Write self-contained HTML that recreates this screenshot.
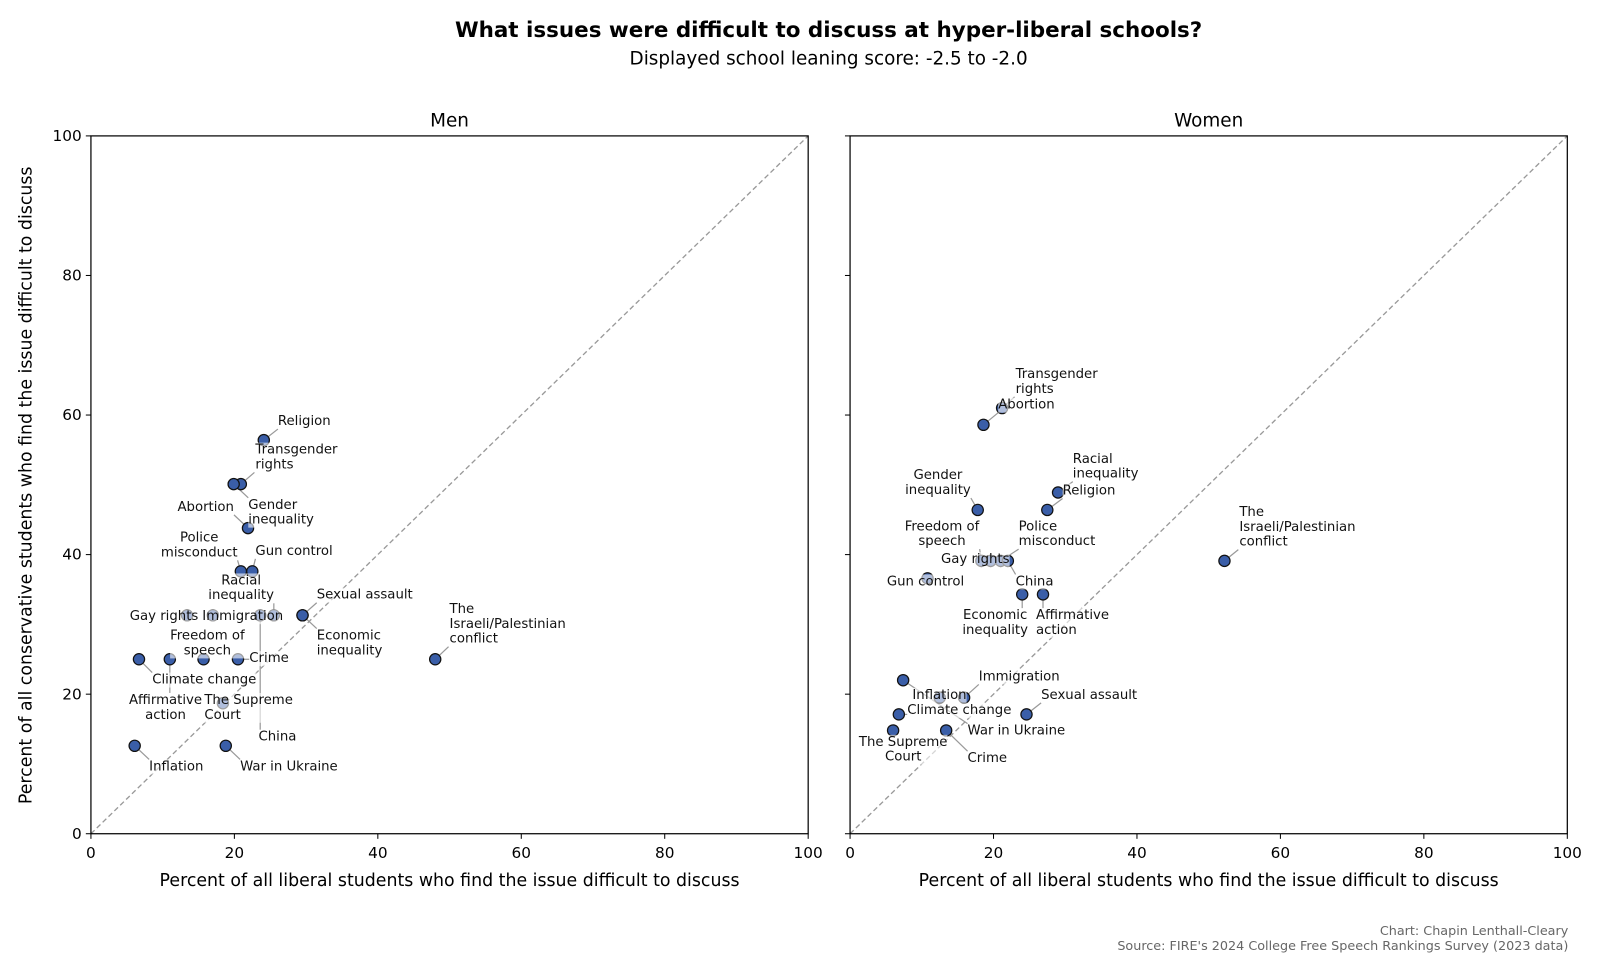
<!DOCTYPE html>
<html><head><meta charset="utf-8">
<style>
body{margin:0;background:#fff;}
svg{display:block;font-family:"DejaVu Sans","Liberation Sans",sans-serif;}
</style></head>
<body>
<svg id="chart" width="1600" height="968" viewBox="0 0 1566 947.4">
  <rect x="0" y="0" width="1566" height="948" fill="#fff"/>
  <text x="811" y="36" text-anchor="middle" font-size="21" font-weight="bold" fill="#000">What issues were difficult to discuss at hyper-liberal schools?</text>
  <text x="811" y="63" text-anchor="middle" font-size="18" fill="#000">Displayed school leaning score: -2.5 to -2.0</text>
  <text x="1535" y="915" text-anchor="end" font-size="12.5" fill="#666">Chart: Chapin Lenthall-Cleary</text>
  <text x="1535" y="930" text-anchor="end" font-size="12.5" fill="#666">Source: FIRE's 2024 College Free Speech Rankings Survey (2023 data)</text>
  <text transform="translate(31,475) rotate(-90)" text-anchor="middle" font-size="17" fill="#000">Percent of all conservative students who find the issue difficult to discuss</text>
  <g id="panels"></g>
</svg>
<script>
const ticks = [0, 20, 40, 60, 80, 100];
const panelNames = ["Men", "Women"];
const issues = ["Religion","Transgender rights","Gender inequality","Abortion","Police misconduct","Gun control","Racial inequality","Immigration","Gay rights","Freedom of speech","Sexual assault","Economic inequality","The Israeli/Palestinian conflict","Crime","Climate change","Affirmative action","The Supreme Court","China","Inflation","War in Ukraine"];
const menLiberal = [24.1,20.9,19.9,21.9,20.9,22.5,25.5,17.0,13.4,15.7,29.5,29.5,48.0,20.5,6.7,11.0,18.4,23.6,6.1,18.8];
const menConservative = [56.4,50.1,50.1,43.8,37.6,37.6,31.3,31.3,31.3,25.0,31.3,31.3,25.0,25.0,25.0,25.0,18.7,31.3,12.6,12.6];
const womenLiberal = [27.5,21.2,17.8,18.6,21.0,10.8,29.0,15.9,19.6,18.3,24.6,24.0,52.2,13.4,6.8,26.9,6.0,22.0,12.5,7.4];
const womenConservative = [46.4,61.0,46.4,58.6,39.1,36.6,48.9,19.5,39.1,39.1,17.1,34.3,39.1,14.8,17.1,34.3,14.8,39.1,19.5,22.0];

// label layout (pixels; [x, y-of-first-baseline, anchor])
const menLabels = [[272,416,"start"],[250,444,"start"],[243,498,"start"],[229,500,"end"],[195,530,"middle"],[250,543,"start"],[236,572,"middle"],[198,607,"start"],[127,607,"start"],[203,626,"middle"],[310,586,"start"],[310,626,"start"],[440,600,"start"],[244,648,"start"],[149,669,"start"],[162,689,"middle"],[200,689,"start"],[253,725,"start"],[146,754,"start"],[235,754,"start"]];
const womenLabels = [[1040,484,"start"],[994,370,"start"],[918,469,"middle"],[977,400,"start"],[997,519,"start"],[868,573,"start"],[1050,453,"start"],[958,666,"start"],[921,551,"start"],[922,519,"middle"],[1019,684,"start"],[974,606,"middle"],[1213,505,"start"],[947,746,"start"],[888,699,"start"],[1014,606,"start"],[884,730,"middle"],[994,573,"start"],[893,684,"start"],[947,719,"start"]];
const wrap = {"Transgender rights":["Transgender","rights"],"Gender inequality":["Gender","inequality"],"Police misconduct":["Police","misconduct"],"Racial inequality":["Racial","inequality"],"Freedom of speech":["Freedom of","speech"],"Economic inequality":["Economic","inequality"],"The Israeli/Palestinian conflict":["The","Israeli/Palestinian","conflict"],"Affirmative action":["Affirmative","action"],"The Supreme Court":["The Supreme","Court"]};

const NS = "http://www.w3.org/2000/svg";
const panelsG = document.getElementById("panels");
const panelX = [89, 832];
const PW = 702, PTOP = 133, PBOT = 816;
function mk(tag, attrs, parent){const e=document.createElementNS(NS,tag);for(const k in attrs)e.setAttribute(k,attrs[k]);parent.appendChild(e);return e;}

function drawPanel(p, xs, ys, labels){
  const x0 = panelX[p];
  const sx = v => x0 + v/100*PW;
  const sy = v => PBOT - v/100*(PBOT-PTOP);
  const g = mk("g",{},panelsG);
  
  
  const t = mk("text",{x:x0+PW/2,y:124,"text-anchor":"middle","font-size":18},g);
  t.textContent = panelNames[p];
  
  
  const d = mk("line",{x1:sx(0),y1:sy(0),x2:sx(100),y2:sy(100),stroke:"#999","stroke-width":1.3,"stroke-dasharray":"5,3"},g);
  
  
  ticks.forEach(v=>{
    mk("line",{x1:sx(v),y1:PBOT,x2:sx(v),y2:PBOT+5,stroke:"#000"},g);
    const tx = mk("text",{x:sx(v),y:PBOT+24,"text-anchor":"middle","font-size":15},g);
    tx.textContent = v;
    
    
    mk("line",{x1:x0-5,y1:sy(v),x2:x0,y2:sy(v),stroke:"#000"},g);
    if(p===0){
      const ty = mk("text",{x:x0-9,y:sy(v)+5,"text-anchor":"end","font-size":15},g);
      ty.textContent = v;
      
      
    }
  });
  const xt = mk("text",{x:x0+PW/2,y:867,"text-anchor":"middle","font-size":17},g);
  xt.textContent = "Percent of all liberal students who find the issue difficult to discuss";
  
  
  const lineG = mk("g",{},g), ptG = mk("g",{},g), labG = mk("g",{},g);
  issues.forEach((name,i)=>{
    const px = sx(xs[i]), py = sy(ys[i]);
    const c = mk("circle",{cx:px,cy:py,r:5.5,fill:"#3a5ea8",stroke:"#111","stroke-width":1.2},ptG);
    
    
    const [lx,ly,anc] = labels[i];
    const lines = wrap[name] || [name];
    const tx = mk("text",{x:lx,y:ly,"text-anchor":anc,"font-size":13,fill:"#111"},labG);
    
    
    lines.forEach((s,j)=>{const ts=mk("tspan",{x:lx,dy:j?14.5:0},tx);ts.textContent=s;});
    const bb = tx.getBBox();
    const bg = mk("rect",{x:bb.x,y:bb.y,width:bb.width,height:bb.height,fill:"#fff","fill-opacity":0.6},labG);
    labG.insertBefore(bg, tx);
    const ex = Math.max(bb.x, Math.min(px, bb.x+bb.width));
    const ey = Math.max(bb.y, Math.min(py, bb.y+bb.height));
    const ln = mk("line",{x1:px,y1:py,x2:ex,y2:ey,stroke:"#999","stroke-width":1.2},lineG);
    
    
  });
  const fr = mk("rect",{x:x0,y:PTOP,width:PW,height:PBOT-PTOP,fill:"none",stroke:"#000","stroke-width":1.2},g);
  
  
}
drawPanel(0, menLiberal, menConservative, menLabels);
drawPanel(1, womenLiberal, womenConservative, womenLabels);
</script>
</body></html>
